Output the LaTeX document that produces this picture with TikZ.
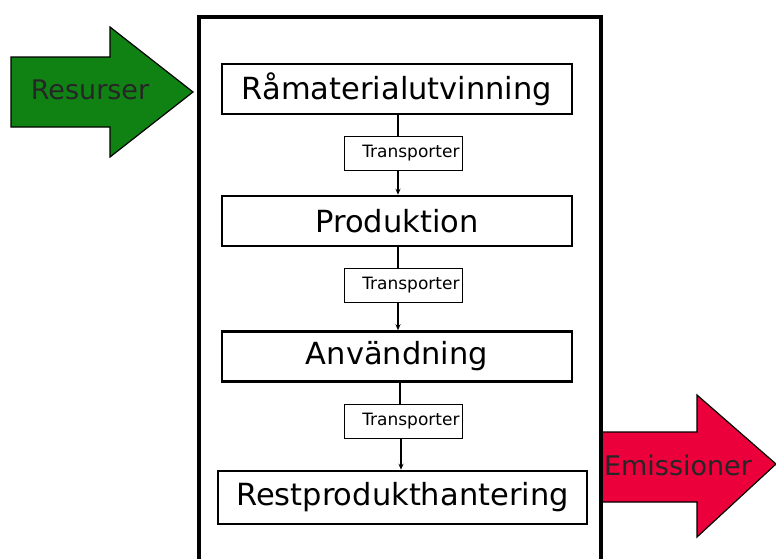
\documentclass[tikz,border=0pt]{standalone}
\usepackage{fontspec}
\setmainfont{DejaVu Sans}
\usetikzlibrary{arrows.meta}
\definecolor{resgreen}{RGB}{16,130,20}
\definecolor{emired}{RGB}{236,0,60}
\tikzset{
  stage/.style={draw, line width=2.5pt, minimum width=350pt, minimum height=50pt, font=\fontsize{30.5}{33}\selectfont, inner sep=0pt},
  trans/.style={draw, line width=0.8pt, fill=white, minimum height=34pt, text width=113pt, align=right, inner xsep=2.5pt, inner ysep=0pt, font=\fontsize{17}{19}\selectfont},
  conn/.style={line width=1.6pt},
  connarrow/.style={line width=1.6pt, -{Stealth[length=6pt,width=5pt]}},
  bigarrow/.style={draw=black, line width=1.2pt},
  arrowlabel/.style={font=\fontsize{27}{30}\selectfont, inner sep=0pt}
}
\begin{document}
\begin{tikzpicture}[x=1pt,y=-1pt]
\useasboundingbox[fill=white] (0,0) rectangle (776,558);
% input arrow
\draw[bigarrow, fill=resgreen] (11,57) -- (110,57) -- (110,27) -- (193,92) -- (110,157) -- (110,127) -- (11,127) -- cycle;
\node[arrowlabel, text=black!85] (res) at (90,90) {Resurser};
% output arrow
\draw[bigarrow, fill=emired] (600,432) -- (697,432) -- (697,395) -- (776,464) -- (697,537) -- (697,502) -- (600,502) -- cycle;
\node[arrowlabel, text=black!85] (emi) at (678,465) {Emissioner};
% outer frame
\draw[line width=4pt] (199,560) -- (199,17) -- (601,17) -- (601,560);
% stages
\node[stage] (s1) at (397,89) {Råmaterialutvinning};
\node[stage] (s2) at (397,221) {Produktion};
\node[stage] (s3) at (397,356.5) {Användning};
\node[stage, minimum width=369pt, minimum height=53pt] (s4) at (402.5,497.5) {Restprodukthantering};
% transports
\node[trans] (t1) at (403,153) {Transporter};
\node[trans] (t2) at (403,285) {Transporter};
\node[trans] (t3) at (403,421) {Transporter};
\draw[conn] (s1.south -| 398,0) -- (t1.north -| 398,0);
\draw[connarrow] (t1.south -| 398,0) -- (s2.north -| 398,0);
\draw[conn] (s2.south -| 398,0) -- (t2.north -| 398,0);
\draw[connarrow] (t2.south -| 398,0) -- (s3.north -| 398,0);
\draw[conn] (s3.south -| 400,0) -- (t3.north -| 400,0);
\draw[connarrow] (t3.south -| 401,0) -- (s4.north -| 401,0);
\end{tikzpicture}
\end{document}
